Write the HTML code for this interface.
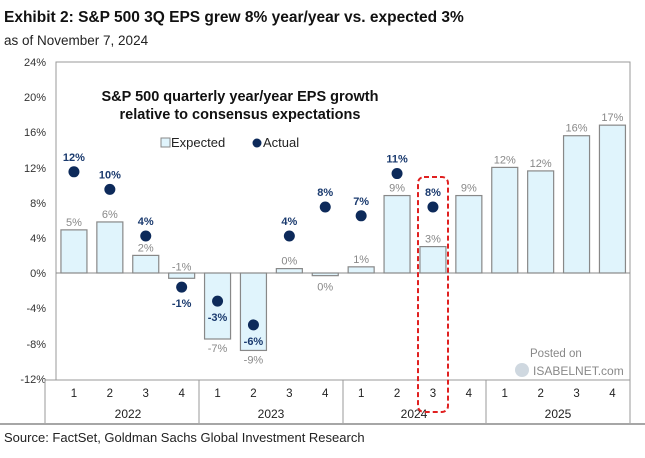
<!DOCTYPE html>
<html><head><meta charset="utf-8"><style>
body{margin:0;background:#fff;width:645px;height:453px;overflow:hidden;font-family:"Liberation Sans",Arial,sans-serif}
</style></head><body>
<svg width="645" height="453" xmlns="http://www.w3.org/2000/svg" font-family="Liberation Sans, Arial, sans-serif">
<text x="4" y="22" font-size="15.5" font-weight="bold" fill="#111">Exhibit 2: S&amp;P 500 3Q EPS grew 8% year/year vs. expected 3%</text>
<text x="4" y="45" font-size="13.5" fill="#222">as of November 7, 2024</text>
<rect x="56" y="62" width="574" height="318" fill="none" stroke="#999" stroke-width="1"/>
<g font-size="11" fill="#333" text-anchor="end">
<text x="46" y="66">24%</text><text x="46" y="101">20%</text><text x="46" y="136">16%</text><text x="46" y="172">12%</text><text x="46" y="207">8%</text><text x="46" y="242">4%</text><text x="46" y="277">0%</text><text x="46" y="312">-4%</text><text x="46" y="348">-8%</text><text x="46" y="383">-12%</text>
</g>
<text x="240" y="101" font-size="14.5" font-weight="bold" text-anchor="middle" fill="#111">S&amp;P 500 quarterly year/year EPS growth</text>
<text x="240" y="119" font-size="14.5" font-weight="bold" text-anchor="middle" fill="#111">relative to consensus expectations</text>
<rect x="161" y="138" width="9" height="9" fill="#e0f4fc" stroke="#888"/>
<text x="171" y="147" font-size="13" fill="#222">Expected</text>
<circle cx="257" cy="143" r="4.5" fill="#0d2a5a"/>
<text x="263" y="147" font-size="13" fill="#222">Actual</text>
<g id="bars" fill="#e0f4fc" stroke="#888" stroke-width="1.2"></g>
<g id="dots"></g>
<line x1="56" y1="273" x2="630" y2="273" stroke="#888" stroke-width="1"/>
<g id="xl" font-size="11.5" fill="#222" text-anchor="middle"></g>
<g stroke="#999" stroke-width="1"><line x1="45" y1="380" x2="45" y2="423"/><line x1="199" y1="380" x2="199" y2="423"/><line x1="343" y1="380" x2="343" y2="423"/><line x1="486" y1="380" x2="486" y2="423"/><line x1="630" y1="380" x2="630" y2="423"/><line x1="45" y1="380" x2="56" y2="380"/></g>
<line x1="0" y1="424" x2="645" y2="424" stroke="#888" stroke-width="1.5"/>
<g font-size="12" fill="#222" text-anchor="middle"><text x="128" y="418">2022</text><text x="271" y="418">2023</text><text x="414" y="418">2024</text><text x="558" y="418">2025</text></g>
<rect x="418" y="177" width="30" height="235" rx="6" fill="none" stroke="#e02020" stroke-width="2" stroke-dasharray="5,3"/>
<text x="530" y="357" font-size="11.5" fill="#888">Posted on</text>
<circle cx="522" cy="370" r="7" fill="#cfd8e0"/>
<text x="533" y="375" font-size="12" fill="#888">ISABELNET.com</text>
<text x="4" y="442" font-size="13" fill="#222">Source: FactSet, Goldman Sachs Global Investment Research</text>
</svg>
<script>
var ns="http://www.w3.org/2000/svg";
function el(p,t,a,tx){var e=document.createElementNS(ns,t);for(var k in a)e.setAttribute(k,a[k]);if(tx!=null)e.textContent=tx;p.appendChild(e);return e;}
var Z=273,S=8.8,W=35.9;
var ex=[4.9,5.8,2.0,-0.6,-7.5,-8.8,0.5,-0.3,0.7,8.8,3.0,8.8,12.0,11.6,15.6,16.8];
var exl=["5%","6%","2%","-1%","-7%","-9%","0%","0%","1%","9%","3%","9%","12%","12%","16%","17%"];
var ac={0:[11.5,"12%"],1:[9.5,"10%"],2:[4.2,"4%"],3:[-1.6,"-1%"],4:[-3.2,"-3%"],5:[-5.9,"-6%"],6:[4.2,"4%"],7:[7.5,"8%"],8:[6.5,"7%"],9:[11.3,"11%"],10:[7.5,"8%"]};
var b=document.getElementById("bars"),d=document.getElementById("dots"),xl=document.getElementById("xl");
for(var i=0;i<16;i++){var cx=56+W*(i+0.5),v=ex[i],y=Z-v*S;
el(b,"rect",{x:cx-13,y:Math.min(y,Z),width:26,height:Math.abs(v*S)});
var ly=v>=0?y-4:y+13;
if(i==3)ly=y-8;if(i==7)ly=y+15;
el(d,"text",{x:cx,y:ly,"font-size":11,"text-anchor":"middle",fill:"#888"},exl[i]);
el(xl,"text",{x:cx,y:397},""+(i%4+1));
if(ac[i]){var ay=Z-ac[i][0]*S;el(d,"circle",{cx:cx,cy:ay,r:5.5,fill:"#0d2a5a"});
var ty=ac[i][0]>=0?ay-11:ay+20;
el(d,"text",{x:cx,y:ty,"font-size":11,"font-weight":"bold","text-anchor":"middle",fill:"#1a3a6e"},ac[i][1]);}}
</script>
</body></html>
